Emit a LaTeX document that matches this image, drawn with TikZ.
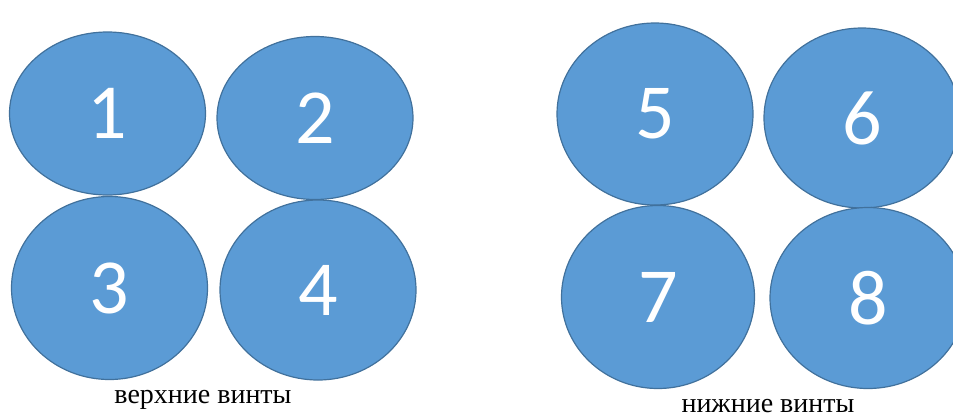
\documentclass[tikz,border=0pt]{standalone}
\usepackage{fontspec}
\setmainfont{Liberation Serif}
\newfontfamily\digitfont{Carlito}
\usetikzlibrary{shapes.geometric}

\definecolor{rotorfill}{HTML}{5B9BD5}
\definecolor{rotorline}{HTML}{41719C}

\begin{document}
\begin{tikzpicture}[x=1pt, y=-1pt,
    rotor/.style={ellipse, draw=rotorline, fill=rotorfill, line width=1.2pt,
                  minimum width=196pt, inner sep=0pt, text=white,
                  font=\digitfont\fontsize{78}{78}\selectfont},
    caption/.style={font=\fontsize{28}{28}\selectfont, anchor=base, inner sep=0pt}
]
\clip (0,0) rectangle (953,418);

% --- upper rotors (left) ---
\node[rotor, minimum height=163pt] (v1) at (107.5,113.5) {1};
\node[rotor, minimum height=163pt] (v2) at (315,118) {2};
\node[rotor, minimum height=183pt] (v3) at (109.5,288) {3};
\node[rotor, minimum height=180pt] (v4) at (318,290) {4};

% --- lower rotors (right) ---
\node[rotor, minimum height=182pt] (n5) at (655,114) {5};
\node[rotor, minimum height=180pt] (n6) at (862,118) {6};
\node[rotor, minimum height=183pt, minimum width=193pt] (n7) at (658,297) {7};
\node[rotor, minimum height=181pt] (n8) at (868,298) {8};

% captions
\node[caption] (upper) at (203,403) {верхние винты};
\node[caption] (lower) at (768,412) {нижние винты};

\end{tikzpicture}
\end{document}
